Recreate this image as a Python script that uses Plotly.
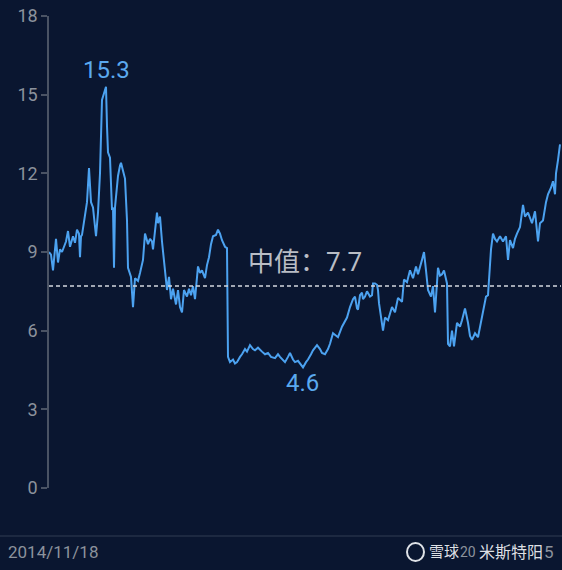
import plotly.graph_objects as go

# weeks since 2014/11/18 and PE values
weeks = [0, 2, 4, 7, 9, 11, 13, 15, 17, 19, 21, 24, 26, 28, 30, 31, 32, 33, 35, 38,
         40, 42, 44, 47, 49, 51, 53, 55, 57, 58, 59, 61, 63, 64, 65, 66, 69, 71, 72, 74,
         76, 78, 79, 82, 84, 86, 89, 91, 94, 96, 98, 99, 101, 103, 104, 106, 108, 109, 111, 113,
         115, 118, 120, 122, 124, 127, 129, 131, 133, 135, 138, 140, 142, 144, 146, 149, 151, 153, 156, 158,
         160, 162, 164, 167, 169, 171, 173, 176, 178, 179, 181, 184, 186, 188, 191, 193, 196, 198, 201, 204,
         206, 209, 213, 216, 219, 222, 226, 229, 231, 234, 236, 239, 241, 244, 246, 249, 251, 254, 257, 259,
         262, 264, 268, 271, 273, 276, 279, 281, 284, 287, 289, 293, 296, 298, 301, 304, 306, 308, 309, 311,
         313, 314, 316, 318, 321, 323, 324, 326, 328, 329, 330, 332, 334, 336, 339, 343, 346, 349, 353, 355,
         358, 361, 364, 367, 369, 373, 375, 377, 379, 382, 384, 386, 389, 391, 393, 395, 398, 399, 401, 403,
         405, 408, 411, 413, 416, 419, 421, 423, 426, 429, 431, 434, 437, 439, 441, 442, 444, 446, 448, 451,
         454, 457, 459, 461, 464, 466, 468, 471, 474, 476, 479, 481, 483, 486, 489, 491, 494, 497, 499, 502,
         504, 506, 507, 509, 511]
pe = [9.0, 8.9, 8.3, 9.5, 8.6, 9.1, 9.0, 9.2, 9.4, 9.8, 9.2, 9.6, 9.35, 9.85, 9.7, 8.8, 9.6, 9.65, 10.2, 10.9,
      12.2, 10.9, 10.7, 9.6, 10.5, 12.0, 14.8, 15.1, 15.3, 13.8, 12.8, 12.6, 10.6, 10.7, 8.4, 10.7, 11.9, 12.3, 12.4, 12.1,
      11.8, 10.2, 8.4, 8.05, 6.9, 8.0, 7.9, 8.2, 8.7, 9.7, 9.4, 9.3, 9.5, 9.4, 9.1, 9.8, 10.5, 10.1, 10.35, 9.4,
      8.6, 7.55, 8.05, 7.2, 7.6, 7.0, 7.55, 6.9, 6.7, 7.55, 7.3, 7.6, 7.35, 7.7, 7.2, 8.45, 8.2, 8.3, 8.0, 8.5,
      8.8, 9.3, 9.6, 9.65, 9.85, 9.7, 9.45, 9.2, 9.15, 5.0, 4.8, 4.9, 4.75, 4.8, 5.0, 5.1, 5.3, 5.2, 5.45, 5.3,
      5.25, 5.35, 5.2, 5.1, 5.15, 5.0, 4.95, 5.1, 5.0, 4.9, 4.8, 5.0, 5.15, 4.9, 4.8, 4.85, 4.75, 4.6, 4.8, 4.9,
      5.1, 5.25, 5.45, 5.3, 5.15, 5.1, 5.3, 5.5, 5.9, 5.8, 5.75, 6.15, 6.4, 6.5, 6.9, 7.2, 7.3, 6.85, 6.8, 7.35,
      7.45, 7.2, 7.3, 7.5, 7.3, 7.35, 7.8, 7.8, 7.75, 7.55, 7.05, 6.6, 6.0, 6.5, 6.4, 6.9, 6.7, 7.25, 7.1, 7.95,
      7.85, 8.3, 8.0, 8.45, 8.15, 8.7, 9.0, 8.3, 7.55, 7.3, 7.7, 6.7, 8.4, 8.1, 8.15, 8.3, 7.8, 5.5, 5.4, 6.0,
      5.4, 6.3, 6.15, 6.4, 6.85, 6.3, 5.8, 5.65, 5.9, 5.75, 6.15, 6.7, 7.3, 7.35, 8.5, 9.1, 9.7, 9.5, 9.4, 9.6,
      9.4, 9.6, 8.7, 9.45, 9.15, 9.5, 9.7, 9.95, 10.8, 10.35, 10.5, 10.3, 10.1, 10.55, 9.4, 10.1, 10.2, 10.9, 11.2, 11.45,
      11.7, 11.2, 12.0, 12.5, 13.1]

median_value = 7.7
median_label = "中值：7.7"
max_label = "15.3"
min_label = "4.6"
y_ticks = [0, 3, 6, 9, 12, 15, 18]
start_label = "2014/11/18"
end_label_visible = ["20", "5"]   # the rest of the end date is hidden under the watermark
watermark = ["雪球", "米斯特阳"]

BG = "#0a1630"
LINE = "#4ca2f0"
GREY = "#8c929c"
FONT = "Roboto, Noto Sans CJK SC, sans-serif"


def px_x(p):
    return (p - 49) / 512


def px_y(p):
    return (488 - p) / 472


fig = go.Figure()
fig.add_trace(go.Scatter(x=weeks, y=pe, mode="lines",
                         line=dict(color=LINE, width=2), hoverinfo="skip"))

fig.add_hline(y=median_value, line=dict(color="#d4d8de", width=1.5, dash="4px,3px"))

fig.add_annotation(x=256, y=8.6, text=median_label, showarrow=False,
                   font=dict(size=26, color="#b9bdc5", family=FONT), yanchor="middle")
fig.add_annotation(x=57, y=15.95, text=max_label, showarrow=False,
                   font=dict(size=24, color="#5aa9ef", family=FONT), yanchor="middle")
fig.add_annotation(x=253, y=4.0, text=min_label, showarrow=False,
                   font=dict(size=24, color="#5aa9ef", family=FONT), yanchor="middle")

# bottom separator and date labels
fig.add_shape(type="line", xref="paper", yref="paper", x0=px_x(0), x1=px_x(562),
              y0=px_y(536), y1=px_y(536), line=dict(color="#243047", width=1.5))
fig.add_annotation(xref="paper", yref="paper", x=px_x(6), y=px_y(552), text=start_label,
                   showarrow=False, xanchor="left", yanchor="middle",
                   font=dict(size=17, color=GREY, family=FONT))
fig.add_annotation(xref="paper", yref="paper", x=px_x(458), y=px_y(552), text=end_label_visible[0],
                   showarrow=False, xanchor="left", yanchor="middle",
                   font=dict(size=14, color=GREY, family=FONT))
fig.add_annotation(xref="paper", yref="paper", x=px_x(556), y=px_y(552), text=end_label_visible[1],
                   showarrow=False, xanchor="right", yanchor="middle",
                   font=dict(size=17, color=GREY, family=FONT))
# watermark
fig.add_shape(type="circle", xref="paper", yref="paper",
              x0=px_x(407), x1=px_x(424), y0=px_y(561), y1=px_y(543),
              line=dict(color="#dfe2e7", width=2))
fig.add_annotation(xref="paper", yref="paper", x=px_x(427), y=px_y(552), text=watermark[0],
                   showarrow=False, xanchor="left", yanchor="middle",
                   font=dict(size=15, color="rgba(236,238,242,0.95)", family=FONT))
fig.add_annotation(xref="paper", yref="paper", x=px_x(477), y=px_y(552), text=watermark[1],
                   showarrow=False, xanchor="left", yanchor="middle",
                   font=dict(size=16, color="rgba(236,238,242,0.95)", family=FONT))

fig.update_layout(
    width=562, height=570,
    paper_bgcolor=BG, plot_bgcolor=BG,
    margin=dict(l=49, r=1, t=16, b=82),
    showlegend=False,
    font=dict(family=FONT),
)
fig.update_xaxes(range=[0, 512], visible=False, showgrid=False, zeroline=False)
fig.update_yaxes(range=[0, 18], tickvals=y_ticks, showgrid=False, zeroline=False,
                 showline=True, linecolor="#4a5364", linewidth=1.5,
                 ticks="outside", ticklen=6, tickcolor="#4a5364", tickwidth=1.5,
                 tickfont=dict(size=18, color=GREY, family=FONT))

fig.write_html("out.html", config={"displayModeBar": False},
               post_script="document.body.style.margin='0';document.body.style.background='#0a1630';")
